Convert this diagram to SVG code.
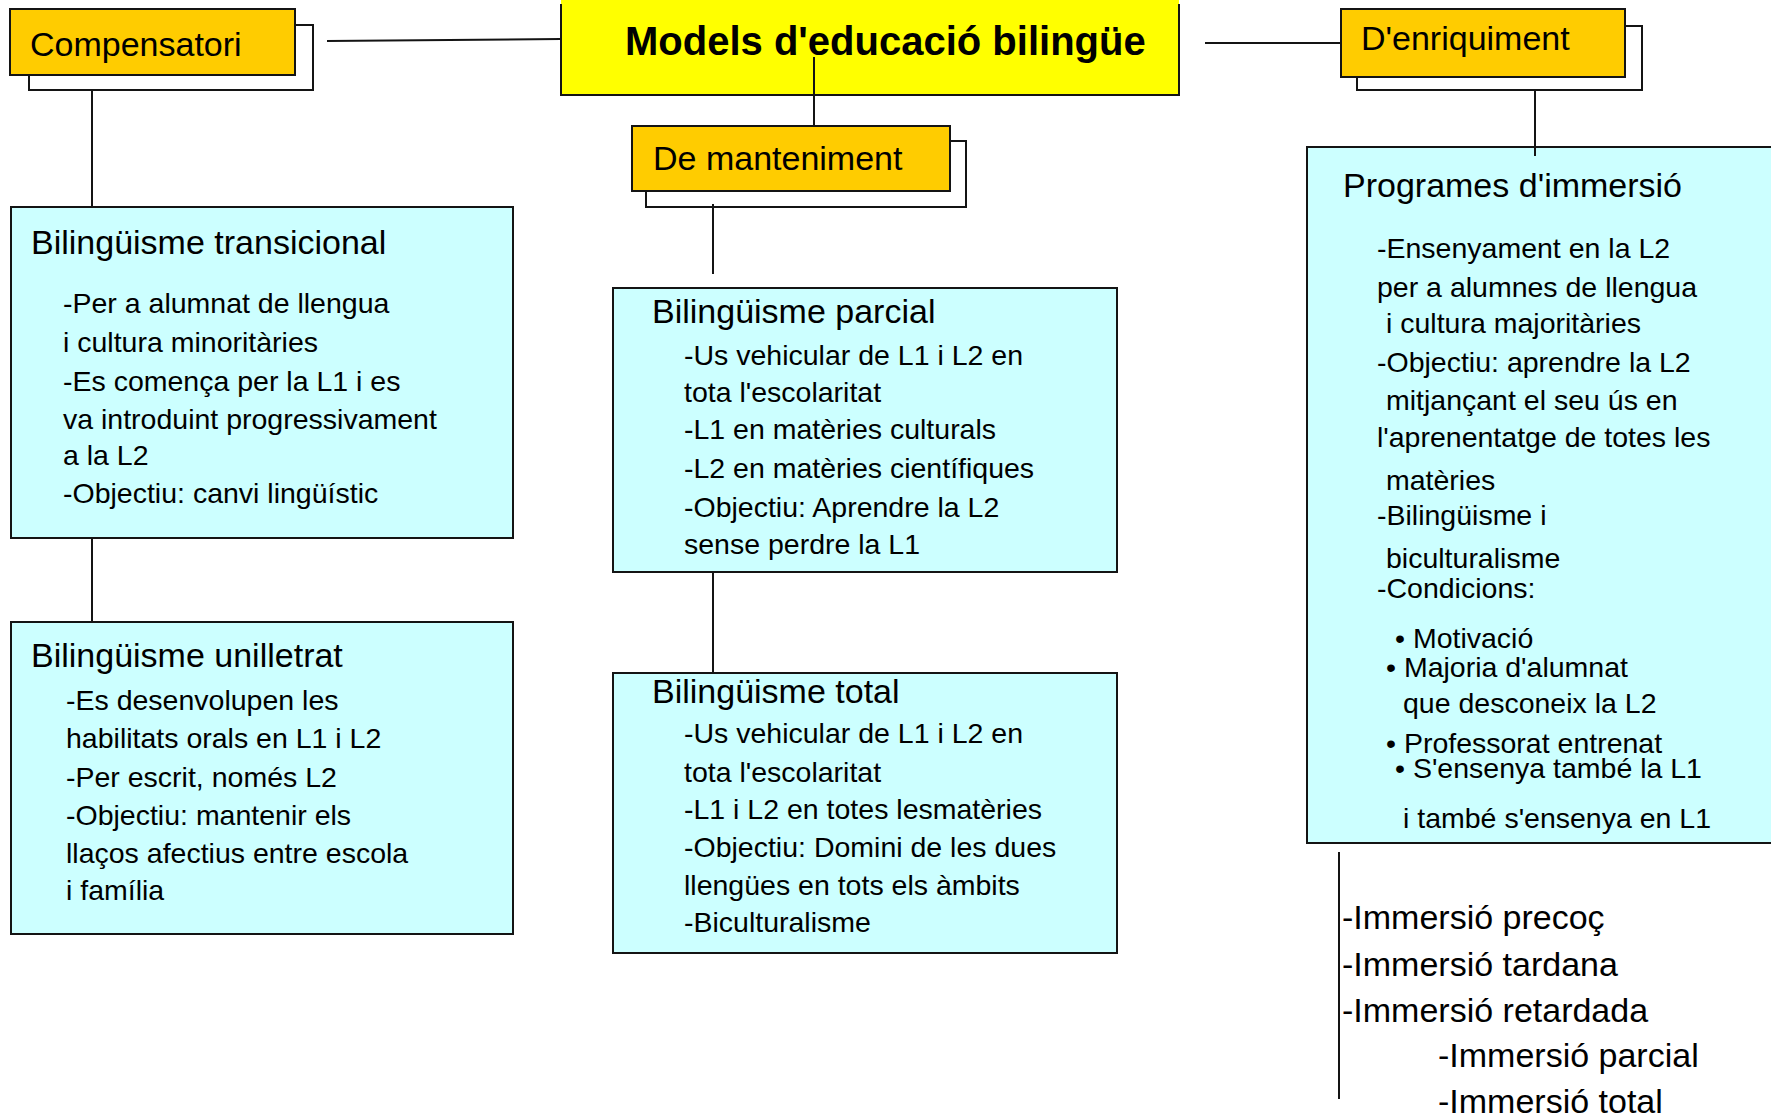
<svg xmlns="http://www.w3.org/2000/svg" width="1771" height="1116" viewBox="0 0 1771 1116">
<style>
.bg{fill:#ffffff}
.ln{stroke:#141414;stroke-width:2;fill:none}
.cat{fill:#ffcc00;stroke:#141414;stroke-width:2}
.shadow{fill:#ffffff;stroke:#141414;stroke-width:2}
.box{fill:#ccffff;stroke:#141414;stroke-width:2}
.t{font-family:"Liberation Sans",Arial,sans-serif;fill:#000}
.h{font-size:34px}
.b{font-size:28.5px}
.title{font-size:40px;font-weight:bold}
</style>
<rect class="bg" x="0" y="0" width="1771" height="1116"/>

<g id="title">
  <rect x="561" y="0" width="618" height="95" fill="#ffff00"/>
  <path class="ln" d="M561,4 V95 H1179 V4"/>
  <text class="t title" x="625" y="55">Models d'educació bilingüe</text>
</g>

<g id="compensatori">
  <rect class="shadow" x="29" y="25" width="284" height="65"/>
  <rect class="cat" x="10" y="9" width="285" height="66"/>
  <text class="t h" x="30" y="56">Compensatori</text>
</g>

<g id="manteniment">
  <rect class="shadow" x="646" y="141" width="320" height="66"/>
  <rect class="cat" x="632" y="126" width="318" height="65"/>
  <text class="t h" x="653" y="170">De manteniment</text>
</g>

<g id="enriquiment">
  <rect class="shadow" x="1357" y="26" width="285" height="64"/>
  <rect class="cat" x="1341" y="9" width="284" height="68"/>
  <text class="t h" x="1361" y="50">D'enriquiment</text>
</g>

<g id="transicional">
  <rect class="box" x="11" y="207" width="502" height="331"/>
  <text class="t h" x="31" y="254">Bilingüisme transicional</text>
  <text class="t b" x="63" y="313">-Per a alumnat de llengua</text>
  <text class="t b" x="63" y="352">i cultura minoritàries</text>
  <text class="t b" x="63" y="391">-Es comença per la L1 i es</text>
  <text class="t b" x="63" y="429">va introduint progressivament</text>
  <text class="t b" x="63" y="465">a la L2</text>
  <text class="t b" x="63" y="503">-Objectiu: canvi lingüístic</text>
</g>

<g id="unilletrat">
  <rect class="box" x="11" y="622" width="502" height="312"/>
  <text class="t h" x="31" y="667">Bilingüisme unilletrat</text>
  <text class="t b" x="66" y="710">-Es desenvolupen les</text>
  <text class="t b" x="66" y="748">habilitats orals en L1 i L2</text>
  <text class="t b" x="66" y="787">-Per escrit, només L2</text>
  <text class="t b" x="66" y="825">-Objectiu: mantenir els</text>
  <text class="t b" x="66" y="863">llaços afectius entre escola</text>
  <text class="t b" x="66" y="900">i família</text>
</g>

<g id="parcial">
  <rect class="box" x="613" y="288" width="504" height="284"/>
  <text class="t h" x="652" y="323">Bilingüisme parcial</text>
  <text class="t b" x="684" y="365">-Us vehicular de L1 i L2 en</text>
  <text class="t b" x="684" y="402">tota l'escolaritat</text>
  <text class="t b" x="684" y="439">-L1 en matèries culturals</text>
  <text class="t b" x="684" y="478">-L2 en matèries científiques</text>
  <text class="t b" x="684" y="517">-Objectiu: Aprendre la L2</text>
  <text class="t b" x="684" y="554">sense perdre la L1</text>
</g>

<g id="total">
  <rect class="box" x="613" y="673" width="504" height="280"/>
  <text class="t h" x="652" y="703">Bilingüisme total</text>
  <text class="t b" x="684" y="743">-Us vehicular de L1 i L2 en</text>
  <text class="t b" x="684" y="782">tota l'escolaritat</text>
  <text class="t b" x="684" y="819">-L1 i L2 en totes lesmatèries</text>
  <text class="t b" x="684" y="857">-Objectiu: Domini de les dues</text>
  <text class="t b" x="684" y="895">llengües en tots els àmbits</text>
  <text class="t b" x="684" y="932">-Biculturalisme</text>
</g>

<g id="immersio">
  <rect x="1307" y="147" width="464" height="696" fill="#ccffff"/>
  <path class="ln" d="M1771,147 H1307 V843 H1771"/>
  <text class="t h" x="1343" y="197">Programes d'immersió</text>
  <text class="t b" x="1377" y="258">-Ensenyament en la L2</text>
  <text class="t b" x="1377" y="297">per a alumnes de llengua</text>
  <text class="t b" x="1386" y="333">i cultura majoritàries</text>
  <text class="t b" x="1377" y="372">-Objectiu: aprendre la L2</text>
  <text class="t b" x="1386" y="410">mitjançant el seu ús en</text>
  <text class="t b" x="1377" y="447">l'aprenentatge de totes les</text>
  <text class="t b" x="1386" y="490">matèries</text>
  <text class="t b" x="1377" y="525">-Bilingüisme i</text>
  <text class="t b" x="1386" y="568">biculturalisme</text>
  <text class="t b" x="1377" y="598">-Condicions:</text>
  <text class="t b" x="1395" y="648">• Motivació</text>
  <text class="t b" x="1386" y="677">• Majoria d'alumnat</text>
  <text class="t b" x="1403" y="713">que desconeix la L2</text>
  <text class="t b" x="1386" y="753">• Professorat entrenat</text>
  <text class="t b" x="1395" y="778">• S'ensenya també la L1</text>
  <text class="t b" x="1403" y="828">i també s'ensenya en L1</text>
</g>

<g id="tipus-immersio">
  <text class="t h" x="1342" y="929">-Immersió precoç</text>
  <text class="t h" x="1342" y="976">-Immersió tardana</text>
  <text class="t h" x="1342" y="1022">-Immersió retardada</text>
  <text class="t h" x="1438" y="1067">-Immersió parcial</text>
  <text class="t h" x="1438" y="1113">-Immersió total</text>
</g>

<g id="connectors">
  <line class="ln" x1="327" y1="41" x2="561" y2="39"/>
  <line class="ln" x1="1205" y1="43" x2="1341" y2="43"/>
  <line class="ln" x1="814" y1="57" x2="814" y2="126"/>
  <line class="ln" x1="92" y1="90" x2="92" y2="207"/>
  <line class="ln" x1="92" y1="538" x2="92" y2="622"/>
  <line class="ln" x1="713" y1="204" x2="713" y2="274"/>
  <line class="ln" x1="713" y1="572" x2="713" y2="673"/>
  <line class="ln" x1="1535" y1="90" x2="1535" y2="156"/>
  <line class="ln" x1="1339" y1="852" x2="1339" y2="1099"/>
</g>
</svg>
